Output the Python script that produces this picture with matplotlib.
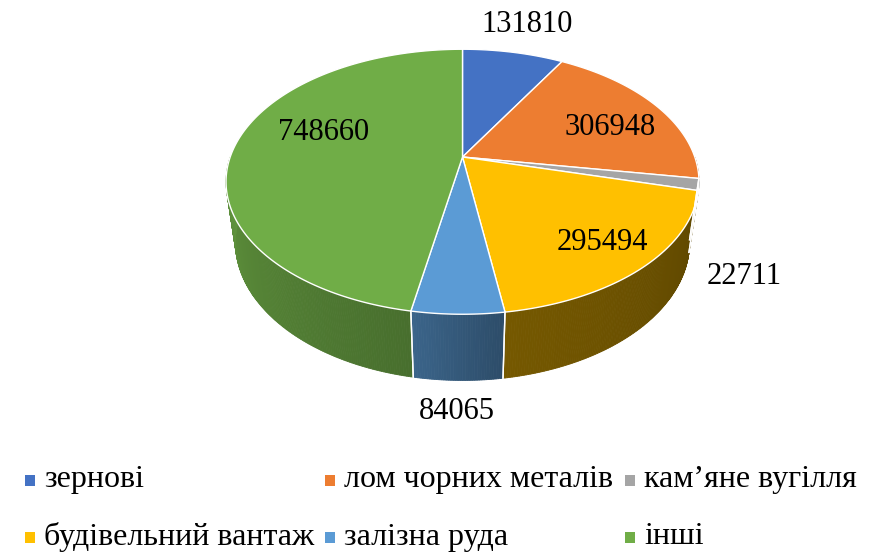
import numpy as np
import matplotlib
matplotlib.use("Agg")
import matplotlib.pyplot as plt
from matplotlib.patches import Polygon, Rectangle
from matplotlib.colors import to_rgb

# ---- data ----
categories = ["зернові", "лом чорних металів", "кам\u2019яне вугілля",
              "будівельний вантаж", "залізна руда", "інші"]
values = [131810, 306948, 22711, 295494, 84065, 748660]
colors = ["#4472C4", "#ED7D31", "#A5A5A5", "#FFC000", "#5B9BD5", "#70AD47"]

# ---- label placement (radius factor, height) ----
label_r = [1.33, 0.75, 1.25, 0.80, 1.15, 0.60]
label_z = [0.0, -0.05, -0.45, 0.0, -0.3235, 0.09]

FAM = ['Liberation Serif', 'DejaVu Serif']
plt.rcParams['font.family'] = FAM

W, H = 880, 559
fig = plt.figure(figsize=(W / 100, H / 100), dpi=100)
ax = fig.add_axes([0, 0, 1, 1])
ax.set_xlim(0, W)
ax.set_ylim(H, 0)
ax.axis("off")

# ---- 3D projection parameters ----
cx, cy, S = 462.5, 157.0, 232.3
alpha = np.deg2rad(33.4)
sa, ca = np.sin(alpha), np.cos(alpha)
f = 4.47
h = 0.3235


def proj(theta, r=1.0, z=0.0):
    theta = np.asarray(theta)
    x = r * np.sin(theta)
    y = r * np.cos(theta)
    v = y * sa + z * ca
    w = y * ca - z * sa
    k = f / (f + w)
    return cx + S * x * k, cy - S * v * k


vals = np.array(values, dtype=float)
frac = vals / vals.sum()
edges = np.concatenate([[0], np.cumsum(frac)]) * 2 * np.pi

# per-slice wall shading range (factor at right end, factor at left end)
wall_shade = {3: (0.37, 0.46), 4: (0.49, 0.65), 5: (0.64, 0.86)}

# ---- side walls (front half: 90..270 deg) ----
lo_vis, hi_vis = np.pi / 2, 3 * np.pi / 2
for i in range(len(values)):
    a0, a1 = max(edges[i], lo_vis), min(edges[i + 1], hi_vis)
    if a1 <= a0:
        continue
    base = np.array(to_rgb(colors[i]))
    s0, s1 = wall_shade.get(i, (0.5, 0.7))
    n = max(int(np.rad2deg(a1 - a0) * 2), 4)
    th = np.linspace(a0, a1, n + 1)
    t = (th - a0) / (a1 - a0)
    for j in range(n):
        tm = 0.5 * (t[j] + t[j + 1])
        fac = s0 + (s1 - s0) * tm
        c = np.clip(base * fac, 0, 1)
        xs_t, ys_t = proj(th[j:j + 2], 1.0, 0.0)
        xs_b, ys_b = proj(th[j:j + 2], 1.0, -h)
        poly = np.column_stack([np.r_[xs_t, xs_b[::-1]], np.r_[ys_t, ys_b[::-1]]])
        ax.add_patch(Polygon(poly, closed=True, facecolor=c, edgecolor=c, lw=0.6))
    for a in (a0, a1):
        if lo_vis < a < hi_vis:
            xs, ys = proj([a, a], 1.0, np.array([0.0, -h]))
            ax.plot(xs, ys, color="white", lw=1.0)

# ---- top faces ----
for i in range(len(values)):
    th = np.linspace(edges[i], edges[i + 1], max(int(np.rad2deg(edges[i + 1] - edges[i]) * 2), 3))
    xs, ys = proj(th)
    poly = np.column_stack([np.r_[cx, xs], np.r_[cy, ys]])
    ax.add_patch(Polygon(poly, closed=True, facecolor=colors[i], edgecolor="white", lw=1.0, joinstyle="round"))

# ---- data labels ----
mids = 0.5 * (edges[:-1] + edges[1:])
for i, v in enumerate(values):
    lx, ly = proj(mids[i], label_r[i], label_z[i])
    ax.text(lx, ly, f"{v}", ha="center", va="center", fontsize=22, color="black", family=FAM)

# ---- legend ----
col_x = [30, 330, 630]
row_y = [480, 537]
for i, name in enumerate(categories):
    r, c = divmod(i, 3)
    mx, my = col_x[c], row_y[r]
    ax.add_patch(Rectangle((mx - 5, my - 5.5), 10, 11, facecolor=colors[i], edgecolor="none"))
    ax.text(mx + 14, my, name, ha="left", va="center", fontsize=23, color="black", family=FAM)

fig.savefig("out.png", dpi=100)
